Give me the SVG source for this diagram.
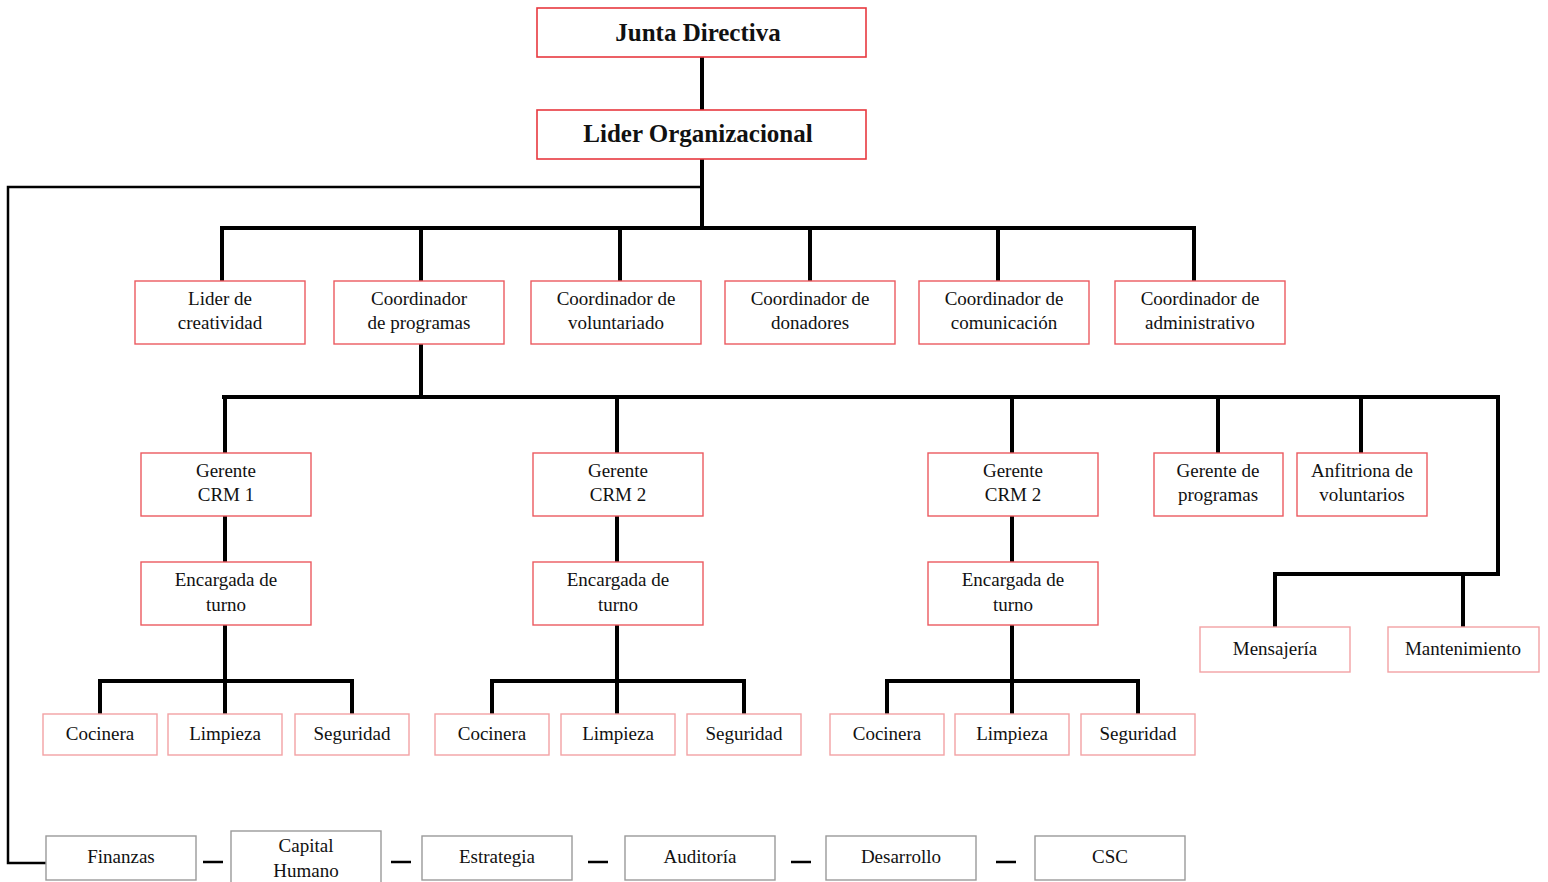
<svg xmlns="http://www.w3.org/2000/svg" width="1548" height="882" viewBox="0 0 1548 882" font-family="Liberation Serif, Tinos, DejaVu Serif, serif">
<style>
text{font-family:'Liberation Serif',Tinos,'DejaVu Serif',serif;font-size:19px;fill:#111;text-anchor:middle}
.t{font-weight:bold;font-size:25px}
.top{fill:#fff;stroke:#e8393f;stroke-width:1.6}
.mid{fill:#fff;stroke:#ec5a60;stroke-width:1.4}
.leaf{fill:#fff;stroke:#f2a2a4;stroke-width:1.4}
.gray{fill:#fff;stroke:#9a9a9a;stroke-width:1.4}
.c{fill:none;stroke:#000;stroke-width:4}
.thin{fill:none;stroke:#000;stroke-width:2.5}
</style>
<rect width="1548" height="882" fill="#fff"/>
<g id="connectors">
<path class="c" d="M702 57V228M222 228H1194M222 226V281M421 226V281M620 226V281M810 226V281M998 226V281M1194 226V281"/>
<path class="thin" d="M702 187H8V863H46"/>
<path class="c" d="M421 344V397M222 397H1498V574H1275V628M1463 574V628M225 397V453M617 397V453M1012 397V453M1218 397V453M1361 397V453"/>
<path class="c" d="M225 516V562M225 625V681M100 714V681H352V714M225 681V714"/>
<path class="c" d="M617 516V562M617 625V681M492 714V681H744V714M617 681V714"/>
<path class="c" d="M1012 516V562M1012 625V681M887 714V681H1138V714M1012 681V714"/>
<path class="thin" d="M203 862H223M391 862H411M588 862H608M791 862H811M996 862H1016" stroke-width="3"/>
</g>
<g id="junta"><rect class="top" x="537" y="8" width="329" height="49"/><text class="t" x="698" y="41">Junta Directiva</text></g>
<g id="lider-org"><rect class="top" x="537" y="110" width="329" height="49"/><text class="t" x="698" y="142">Lider Organizacional</text></g>
<g id="lider-creatividad"><rect class="mid" x="135" y="281" width="170" height="63"/><text x="220" y="305">Lider de</text><text x="220" y="329">creatividad</text></g>
<g id="coord-programas"><rect class="mid" x="334" y="281" width="170" height="63"/><text x="419" y="305">Coordinador</text><text x="419" y="329">de programas</text></g>
<g id="coord-voluntariado"><rect class="mid" x="531" y="281" width="170" height="63"/><text x="616" y="305">Coordinador de</text><text x="616" y="329">voluntariado</text></g>
<g id="coord-donadores"><rect class="mid" x="725" y="281" width="170" height="63"/><text x="810" y="305">Coordinador de</text><text x="810" y="329">donadores</text></g>
<g id="coord-comunicacion"><rect class="mid" x="919" y="281" width="170" height="63"/><text x="1004" y="305">Coordinador de</text><text x="1004" y="329">comunicación</text></g>
<g id="coord-administrativo"><rect class="mid" x="1115" y="281" width="170" height="63"/><text x="1200" y="305">Coordinador de</text><text x="1200" y="329">administrativo</text></g>
<g id="gerente-crm1"><rect class="mid" x="141" y="453" width="170" height="63"/><text x="226" y="477">Gerente</text><text x="226" y="501">CRM 1</text></g>
<g id="gerente-crm2a"><rect class="mid" x="533" y="453" width="170" height="63"/><text x="618" y="477">Gerente</text><text x="618" y="501">CRM 2</text></g>
<g id="gerente-crm2b"><rect class="mid" x="928" y="453" width="170" height="63"/><text x="1013" y="477">Gerente</text><text x="1013" y="501">CRM 2</text></g>
<g id="gerente-programas"><rect class="mid" x="1154" y="453" width="129" height="63"/><text x="1218" y="477">Gerente de</text><text x="1218" y="501">programas</text></g>
<g id="anfitriona"><rect class="mid" x="1297" y="453" width="130" height="63"/><text x="1362" y="477">Anfitriona de</text><text x="1362" y="501">voluntarios</text></g>
<g id="encargada1"><rect class="mid" x="141" y="562" width="170" height="63"/><text x="226" y="586">Encargada de</text><text x="226" y="611">turno</text></g>
<g id="encargada2"><rect class="mid" x="533" y="562" width="170" height="63"/><text x="618" y="586">Encargada de</text><text x="618" y="611">turno</text></g>
<g id="encargada3"><rect class="mid" x="928" y="562" width="170" height="63"/><text x="1013" y="586">Encargada de</text><text x="1013" y="611">turno</text></g>
<g id="mensajeria"><rect class="leaf" x="1200" y="627" width="150" height="45"/><text x="1275" y="655">Mensajería</text></g>
<g id="mantenimiento"><rect class="leaf" x="1388" y="627" width="151" height="45"/><text x="1463" y="655">Mantenimiento</text></g>
<g id="cocinera1"><rect class="leaf" x="43" y="714" width="114" height="41"/><text x="100" y="740">Cocinera</text></g>
<g id="limpieza1"><rect class="leaf" x="168" y="714" width="114" height="41"/><text x="225" y="740">Limpieza</text></g>
<g id="seguridad1"><rect class="leaf" x="295" y="714" width="114" height="41"/><text x="352" y="740">Seguridad</text></g>
<g id="cocinera2"><rect class="leaf" x="435" y="714" width="114" height="41"/><text x="492" y="740">Cocinera</text></g>
<g id="limpieza2"><rect class="leaf" x="561" y="714" width="114" height="41"/><text x="618" y="740">Limpieza</text></g>
<g id="seguridad2"><rect class="leaf" x="687" y="714" width="114" height="41"/><text x="744" y="740">Seguridad</text></g>
<g id="cocinera3"><rect class="leaf" x="830" y="714" width="114" height="41"/><text x="887" y="740">Cocinera</text></g>
<g id="limpieza3"><rect class="leaf" x="955" y="714" width="114" height="41"/><text x="1012" y="740">Limpieza</text></g>
<g id="seguridad3"><rect class="leaf" x="1081" y="714" width="114" height="41"/><text x="1138" y="740">Seguridad</text></g>
<g id="finanzas"><rect class="gray" x="46" y="836" width="150" height="44"/><text x="121" y="863">Finanzas</text></g>
<g id="capital-humano"><rect class="gray" x="231" y="831" width="150" height="53"/><text x="306" y="852">Capital</text><text x="306" y="877">Humano</text></g>
<g id="estrategia"><rect class="gray" x="422" y="836" width="150" height="44"/><text x="497" y="863">Estrategia</text></g>
<g id="auditoria"><rect class="gray" x="625" y="836" width="150" height="44"/><text x="700" y="863">Auditoría</text></g>
<g id="desarrollo"><rect class="gray" x="826" y="836" width="150" height="44"/><text x="901" y="863">Desarrollo</text></g>
<g id="csc"><rect class="gray" x="1035" y="836" width="150" height="44"/><text x="1110" y="863">CSC</text></g>
</svg>
